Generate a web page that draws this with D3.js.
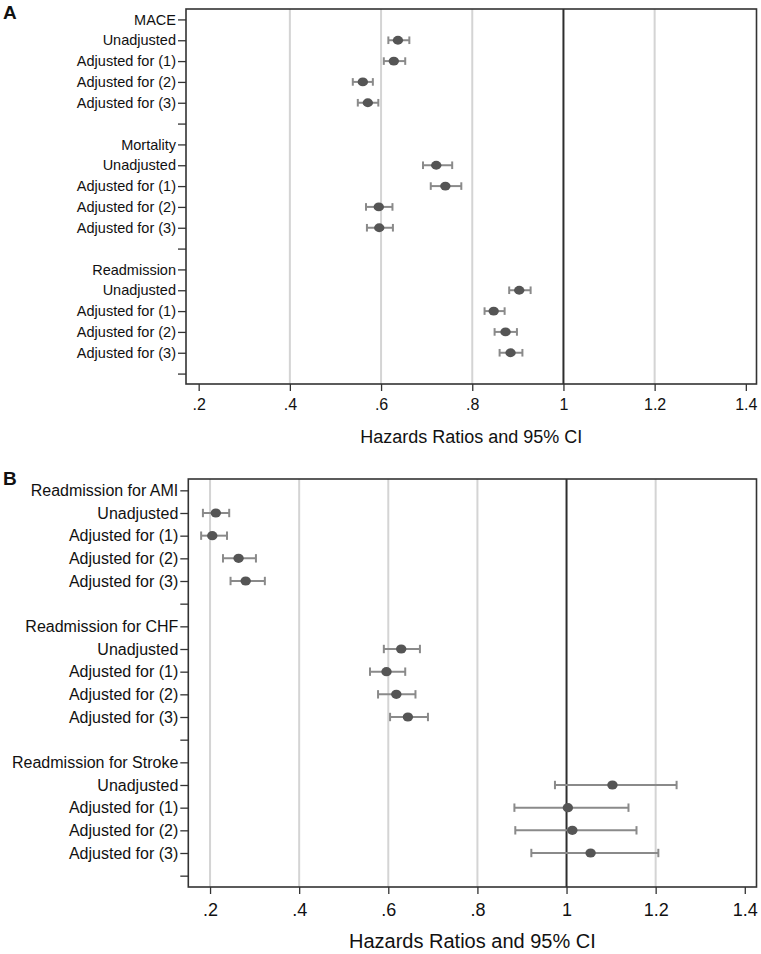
<!DOCTYPE html>
<html>
<head>
<meta charset="utf-8">
<script src="https://cdn.jsdelivr.net/npm/d3@7"></script>
<style>
  html, body { margin: 0; padding: 0; background: #fff; }
  svg { display: block; font-family: "Liberation Sans", Arial, sans-serif; }
</style>
</head>
<body>
<svg id="chart" width="761" height="954"></svg>
<script>
// ---------- DATA ----------
const subLabels = ["Unadjusted", "Adjusted for (1)", "Adjusted for (2)", "Adjusted for (3)"];

const groupsA = ["MACE", "Mortality", "Readmission"];
const hrA   = [0.637, 0.628, 0.560, 0.571,  0.721, 0.741, 0.595, 0.596,  0.903, 0.847, 0.873, 0.884];
const lowA  = [0.616, 0.606, 0.538, 0.549,  0.692, 0.709, 0.567, 0.569,  0.881, 0.827, 0.849, 0.860];
const highA = [0.662, 0.653, 0.582, 0.594,  0.756, 0.776, 0.625, 0.626,  0.928, 0.871, 0.898, 0.910];

const groupsB = ["Readmission for AMI", "Readmission for CHF", "Readmission for Stroke"];
const hrB   = [0.213, 0.205, 0.264, 0.280,  0.629, 0.596, 0.618, 0.644,  1.103, 1.003, 1.013, 1.054];
const lowB  = [0.184, 0.180, 0.229, 0.246,  0.590, 0.559, 0.577, 0.604,  0.974, 0.883, 0.885, 0.921];
const highB = [0.243, 0.238, 0.303, 0.323,  0.671, 0.638, 0.661, 0.689,  1.247, 1.139, 1.157, 1.206];

const xTicks = [0.2, 0.4, 0.6, 0.8, 1.0, 1.2, 1.4];
const xTitle = "Hazards Ratios and 95% CI";

// ---------- DRAW ----------
const svg = d3.select("#chart");
const fmt = d => (d === 1 ? "1" : String(+d.toFixed(1)).replace(/^0\./, "."));

function buildRows(groups, hr, lo, hi) {
  const labels = [], pts = [];
  groups.forEach((g, gi) => {
    labels.push(g);
    subLabels.forEach((s, si) => {
      labels.push(s);
      const k = gi * 4 + si;
      pts.push({ row: labels.length - 1, hr: hr[k], lo: lo[k], hi: hi[k] });
    });
    labels.push("");
  });
  return { labels, pts };
}

function panel(cfg) {
  const { labels, pts } = buildRows(cfg.groups, cfg.hr, cfg.lo, cfg.hi);
  const g = svg.append("g");
  const x = d3.scaleLinear().domain(cfg.xDomain).range([cfg.left, cfg.right]);
  const y = d3.scaleLinear().domain([-0.5, labels.length - 0.5]).range([cfg.top, cfg.bottom]);

  // gridlines
  g.append("g").selectAll("line")
    .data(cfg.grid).join("line")
    .attr("x1", d => x(d)).attr("x2", d => x(d))
    .attr("y1", cfg.top).attr("y2", cfg.bottom)
    .attr("stroke", "#d4d4d4").attr("stroke-width", 2);

  // reference line at 1
  g.append("line")
    .attr("x1", x(1)).attr("x2", x(1))
    .attr("y1", cfg.top).attr("y2", cfg.bottom)
    .attr("stroke", "#2e2e2e").attr("stroke-width", 2);

  // frame
  g.append("rect")
    .attr("x", cfg.left).attr("y", cfg.top)
    .attr("width", cfg.right - cfg.left).attr("height", cfg.bottom - cfg.top)
    .attr("fill", "none").attr("stroke", "#333").attr("stroke-width", 1.6);

  // y axis
  const yAxis = d3.axisLeft(y)
    .tickValues(d3.range(labels.length))
    .tickFormat(i => labels[i])
    .tickSize(8).tickSizeOuter(0).tickPadding(2);
  const ya = g.append("g").attr("transform", `translate(${cfg.left},0)`).call(yAxis);
  ya.select(".domain").remove();
  ya.selectAll("line").attr("stroke", "#333").attr("stroke-width", 1.3);
  ya.selectAll("text").attr("font-size", cfg.labelSize).attr("fill", "#111")
    .attr("font-family", "Liberation Sans, Arial, sans-serif");

  // x axis
  const xAxis = d3.axisBottom(x).tickValues(xTicks).tickFormat(fmt)
    .tickSize(7).tickSizeOuter(0).tickPadding(cfg.tickPad);
  const xa = g.append("g").attr("transform", `translate(0,${cfg.bottom})`).call(xAxis);
  xa.select(".domain").remove();
  xa.selectAll("line").attr("stroke", "#333").attr("stroke-width", 1.3);
  xa.selectAll("text").attr("font-size", cfg.tickSize).attr("fill", "#111")
    .attr("font-family", "Liberation Sans, Arial, sans-serif");

  // x title
  g.append("text")
    .attr("x", (cfg.left + cfg.right) / 2).attr("y", cfg.titleY)
    .attr("text-anchor", "middle").attr("font-size", cfg.titleSize).attr("fill", "#111")
    .text(xTitle);

  // panel letter
  g.append("text")
    .attr("x", 3).attr("y", cfg.letterY)
    .attr("font-size", 19).attr("font-weight", "bold").attr("fill", "#111")
    .text(cfg.letter);

  // CI bars
  const ci = g.append("g").attr("stroke", "#8a8a8a").attr("stroke-width", 2);
  ci.selectAll("line.h").data(pts).join("line").attr("class", "h")
    .attr("x1", d => x(d.lo)).attr("x2", d => x(d.hi))
    .attr("y1", d => y(d.row)).attr("y2", d => y(d.row));
  ci.selectAll("line.l").data(pts).join("line").attr("class", "l")
    .attr("x1", d => x(d.lo)).attr("x2", d => x(d.lo))
    .attr("y1", d => y(d.row) - cfg.cap).attr("y2", d => y(d.row) + cfg.cap);
  ci.selectAll("line.r").data(pts).join("line").attr("class", "r")
    .attr("x1", d => x(d.hi)).attr("x2", d => x(d.hi))
    .attr("y1", d => y(d.row) - cfg.cap).attr("y2", d => y(d.row) + cfg.cap);

  // points
  g.append("g").selectAll("ellipse").data(pts).join("ellipse")
    .attr("cx", d => x(d.hr)).attr("cy", d => y(d.row))
    .attr("rx", cfg.rx).attr("ry", cfg.ry)
    .attr("fill", "#555555");
}

panel({
  letter: "A", letterY: 19,
  groups: groupsA, hr: hrA, lo: lowA, hi: highA,
  left: 186, right: 756.5, top: 9, bottom: 384,
  xDomain: [0.1722, 1.4234],
  grid: [0.4, 0.6, 0.8, 1.2],
  labelSize: 14.5, tickSize: 16, tickPad: 8, titleSize: 18, titleY: 443,
  cap: 3.8, rx: 5.2, ry: 4.4
});

panel({
  letter: "B", letterY: 485,
  groups: groupsB, hr: hrB, lo: lowB, hi: highB,
  left: 188.3, right: 756.5, top: 479, bottom: 887,
  xDomain: [0.1512, 1.4263],
  grid: [0.2, 0.4, 0.6, 0.8, 1.2],
  labelSize: 16, tickSize: 18, tickPad: 9, titleSize: 20, titleY: 948,
  cap: 4.2, rx: 5.2, ry: 4.6
});
</script>
</body>
</html>
